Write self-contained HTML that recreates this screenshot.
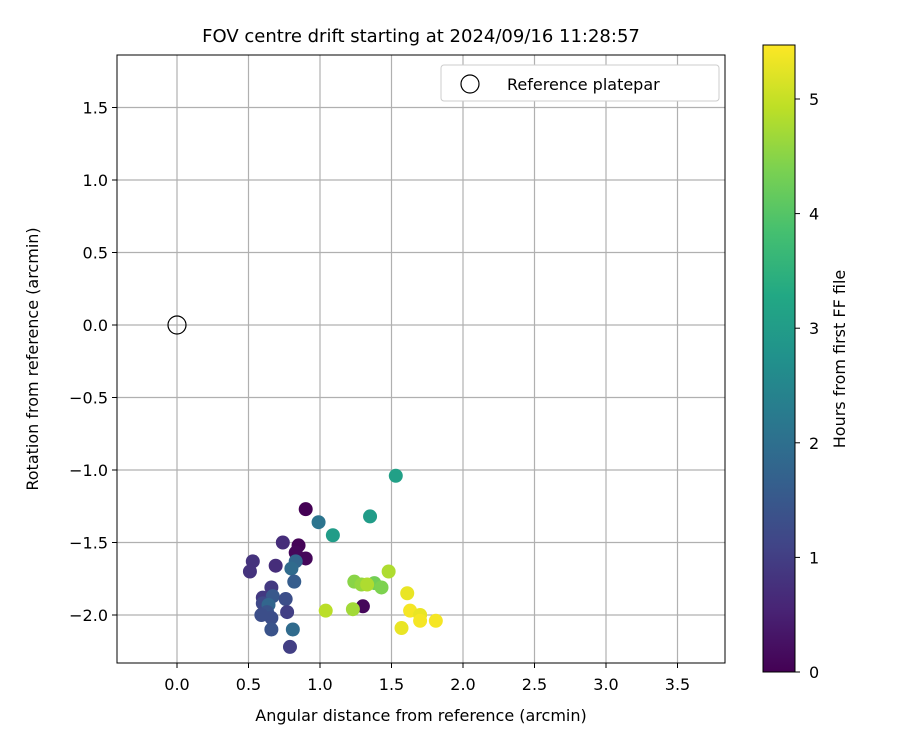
<!DOCTYPE html>
<html><head><meta charset="utf-8"><style>
body{margin:0;background:#fff;}
svg text{font-family:"DejaVu Sans","Liberation Sans",sans-serif;fill:#000;}
</style></head><body>
<svg id="chart" width="900" height="750" xmlns="http://www.w3.org/2000/svg">
<defs>
<linearGradient id="vir" x1="0" y1="1" x2="0" y2="0">
<stop offset="0" stop-color="#440154"/><stop offset="0.1" stop-color="#482475"/><stop offset="0.2" stop-color="#414487"/><stop offset="0.3" stop-color="#355f8d"/><stop offset="0.4" stop-color="#2a788e"/><stop offset="0.5" stop-color="#21918c"/><stop offset="0.6" stop-color="#22a884"/><stop offset="0.7" stop-color="#44bf70"/><stop offset="0.8" stop-color="#7ad151"/><stop offset="0.9" stop-color="#bddf26"/><stop offset="1" stop-color="#fde725"/>
</linearGradient>
</defs>
<text x="421" y="42" font-size="18" text-anchor="middle">FOV centre drift starting at 2024/09/16 11:28:57</text>
<g id="grid"></g>
<g id="ticks"></g>
<g id="points"></g>
<circle cx="177" cy="325" r="9" fill="none" stroke="#000" stroke-width="1.2"/>
<rect x="117" y="55" width="608" height="608" fill="none" stroke="#000" stroke-width="1"/>
<g>
<rect x="441" y="65" width="278" height="36" rx="3" fill="#fff" stroke="#ccc"/>
<circle cx="470" cy="84" r="9" fill="none" stroke="#000" stroke-width="1.2"/>
<text x="507" y="90" font-size="16">Reference platepar</text>
</g>
<text x="421" y="721" font-size="16" text-anchor="middle">Angular distance from reference (arcmin)</text>
<text transform="translate(38,359) rotate(-90)" font-size="16" text-anchor="middle">Rotation from reference (arcmin)</text>
<rect x="763" y="45" width="32" height="627" fill="url(#vir)" stroke="#000" stroke-width="1"/>
<g id="cbticks"></g>
<text transform="translate(845,359) rotate(-90)" font-size="16" text-anchor="middle">Hours from first FF file</text>
</svg>
<script>
const xTicks=[0,0.5,1,1.5,2,2.5,3,3.5];
const yTicks=[-2,-1.5,-1,-0.5,0,0.5,1,1.5];
const cbTicks=[0,1,2,3,4,5];
const xVals=[1.53,0.90,0.99,1.09,1.35,0.74,0.85,0.83,0.90,0.69,0.83,0.53,0.51,0.80,0.82,0.66,0.60,0.67,0.60,0.76,0.77,0.64,0.63,0.66,0.66,0.81,0.79,0.59,1.38,1.48,1.24,1.29,1.33,1.43,1.30,1.23,1.04,1.61,1.63,1.70,1.70,1.81,1.57];
const yVals=[-1.04,-1.27,-1.36,-1.45,-1.32,-1.50,-1.52,-1.57,-1.61,-1.66,-1.63,-1.63,-1.70,-1.68,-1.77,-1.81,-1.88,-1.87,-1.92,-1.89,-1.98,-1.93,-1.98,-2.02,-2.10,-2.10,-2.22,-2.00,-1.78,-1.70,-1.77,-1.79,-1.79,-1.81,-1.94,-1.96,-1.97,-1.85,-1.97,-2.00,-2.04,-2.04,-2.09];
const hours=[3.1,0.0,2.1,3.0,3.0,0.7,0.05,0.1,0.1,0.7,1.8,0.8,0.8,1.9,1.6,0.9,0.9,1.5,1.2,1.3,1.0,1.8,1.4,1.3,1.4,1.9,1.0,1.3,4.3,4.8,4.5,4.6,4.8,4.4,0.1,4.7,4.9,5.3,5.4,5.3,5.4,5.4,5.3];
const NS="http://www.w3.org/2000/svg";
const X=v=>177+v*143, Y=v=>325-v*145, C=v=>672-v*114.6, HMAX=5.47;
const vir=["#440154","#482475","#414487","#355f8d","#2a788e","#21918c","#22a884","#44bf70","#7ad151","#bddf26","#fde725"];
function hex(h){return [1,3,5].map(i=>parseInt(h.substr(i,2),16));}
function cmap(t){t=Math.max(0,Math.min(1,t));const f=t*10,i=Math.min(9,Math.floor(f)),r=f-i;const a=hex(vir[i]),b=hex(vir[i+1]);return "rgb("+a.map((v,k)=>Math.round(v+(b[k]-v)*r)).join(",")+")";}
function mk(tag,attrs,parent){const e=document.createElementNS(NS,tag);for(const k in attrs)e.setAttribute(k,attrs[k]);document.getElementById(parent).appendChild(e);return e;}
xTicks.forEach(t=>{
 const l=mk("line",{x1:X(t),x2:X(t),y1:55,y2:663,stroke:"#b0b0b0","stroke-width":1.2},"grid");
 
 
 const k=mk("line",{x1:X(t),x2:X(t),y1:663,y2:668,stroke:"#000"},"ticks");
 
 
 const tx=mk("text",{x:X(t),y:690,"font-size":16,"text-anchor":"middle"},"ticks");
 tx.textContent=t.toFixed(1);
 
 
});
yTicks.forEach(t=>{
 const l=mk("line",{x1:117,x2:725,y1:Y(t),y2:Y(t),stroke:"#b0b0b0","stroke-width":1.2},"grid");
 
 
 const k=mk("line",{x1:112,x2:117,y1:Y(t),y2:Y(t),stroke:"#000"},"ticks");
 
 
 const tx=mk("text",{x:108,y:Y(t)+6,"font-size":16,"text-anchor":"end"},"ticks");
 tx.textContent=(t<0?"\u2212":"")+Math.abs(t).toFixed(1);
 
 
});
cbTicks.forEach(t=>{
 const k=mk("line",{x1:795,x2:800,y1:C(t),y2:C(t),stroke:"#000"},"cbticks");
 
 
 const tx=mk("text",{x:809,y:C(t)+6,"font-size":16},"cbticks");
 tx.textContent=t;
 
 
});
xVals.forEach((v,i)=>{
 const c=mk("circle",{cx:X(v),cy:Y(yVals[i]),r:7,fill:cmap(hours[i]/HMAX)},"points");
 
 
});
</script>
</body></html>
